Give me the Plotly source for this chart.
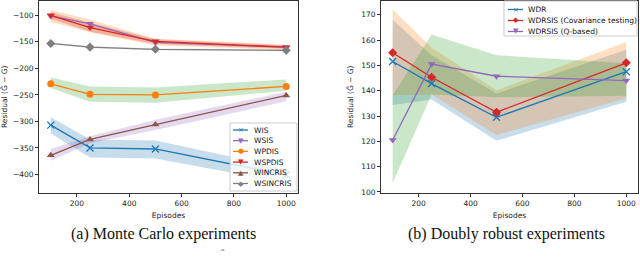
import plotly.graph_objects as go
from plotly.subplots import make_subplots

W, H = 640, 259

# ---------------- data ----------------
episodes = [100, 250, 500, 1000]

# (a) Monte Carlo experiments
mc_names = ["WIS", "WSIS", "WPDIS", "WSPDIS", "WINCRIS", "WSINCRIS"]
wis = [-307, -350, -352, -401]
wis_hi = [-292, -334, -336, -389]
wis_lo = [-323, -368, -370, -416]
wsis = [-101, -116, -151, -160]
wsis_hi = [-90, -108, -144, -155]
wsis_lo = [-112, -132, -157, -165]
wpdis = [-229, -249, -250, -234]
wpdis_hi = [-217, -234, -236, -221]
wpdis_lo = [-237, -263, -265, -242]
wspdis = [-100, -123, -149, -160]
wspdis_hi = [-94, -114, -145, -157]
wspdis_lo = [-107, -131, -154, -163]
wincris = [-364, -334, -306, -251]
wincris_hi = [-352, -328, -297, -244]
wincris_lo = [-374, -341, -316, -262]
wsincris = [-153, -160, -164, -166]
wsincris_hi = [-151, -158, -162, -164]
wsincris_lo = [-155, -162, -166, -168]

# (b) Doubly robust experiments
dr_names = ["WDR", "WDRSIS (Covariance testing)", "WDRSIS (Q-based)"]
wdr = [151.5, 142.8, 129.5, 147.5]
wdr_hi = [168, 154, 138.9, 156.2]
wdr_lo = [134.3, 136.5, 120.2, 135.6]
cov = [155, 145.3, 131.5, 151]
cov_hi = [172, 157, 140.2, 159.2]
cov_lo = [138.2, 138.5, 122.5, 137]
qb = [120.5, 150.5, 145.7, 144]
qb_hi = [138.2, 162.2, 154, 150.8]
qb_lo = [103.5, 138.5, 137.4, 138]

mc_yticks = [-100, -150, -200, -250, -300, -350, -400]
dr_yticks = [100, 110, 120, 130, 140, 150, 160, 170]
xticks = [200, 400, 600, 800, 1000]

# ---------------- styles ----------------
C = {"blue": "#1f77b4", "orange": "#ff7f0e", "green": "#2ca02c", "red": "#d62728",
     "purple": "#9467bd", "brown": "#8c564b", "grey": "#7f7f7f"}

def rgba(hexc, a):
    h = hexc.lstrip("#")
    r, g, b = int(h[0:2], 16), int(h[2:4], 16), int(h[4:6], 16)
    return f"rgba({r},{g},{b},{a})"

fig = make_subplots(rows=1, cols=2)

def band(x, hi, lo, color, col, a=0.25):
    fig.add_trace(go.Scatter(x=x + x[::-1], y=hi + lo[::-1], fill="toself",
                             fillcolor=rgba(color, a), line=dict(width=0),
                             mode="lines", hoverinfo="skip", showlegend=False),
                  row=1, col=col)

def line(x, y, name, color, symbol, col, size=7):
    mk = dict(symbol=symbol, size=size, color=color)
    if symbol.startswith("x-thin"):
        mk["line"] = dict(color=color, width=1.3)
    fig.add_trace(go.Scatter(x=x, y=y, name=name, mode="lines+markers",
                             line=dict(color=color, width=1.3), marker=mk,
                             showlegend=False), row=1, col=col)

# panel (a) bands
band(episodes, wis_hi, wis_lo, C["blue"], 1)
band(episodes, wsis_hi, wsis_lo, C["orange"], 1)
band(episodes, wpdis_hi, wpdis_lo, C["green"], 1)
band(episodes, wspdis_hi, wspdis_lo, C["red"], 1)
band(episodes, wincris_hi, wincris_lo, C["purple"], 1)
band(episodes, wsincris_hi, wsincris_lo, C["grey"], 1, 0.15)
# panel (a) lines
line(episodes, wis, "WIS", C["blue"], "x-thin", 1)
line(episodes, wsis, "WSIS", C["purple"], "triangle-down", 1)
line(episodes, wpdis, "WPDIS", C["orange"], "circle", 1)
line(episodes, wspdis, "WSPDIS", C["red"], "triangle-down", 1)
line(episodes, wincris, "WINCRIS", C["brown"], "triangle-up", 1)
line(episodes, wsincris, "WSINCRIS", C["grey"], "diamond", 1)

# panel (b)
band(episodes, wdr_hi, wdr_lo, C["blue"], 2)
band(episodes, cov_hi, cov_lo, C["orange"], 2)
band(episodes, qb_hi, qb_lo, C["green"], 2)
line(episodes, wdr, "WDR", C["blue"], "x-thin", 2)
line(episodes, cov, "WDRSIS (Covariance testing)", C["red"], "diamond", 2)
line(episodes, qb, "WDRSIS (Q-based)", C["purple"], "triangle-down", 2)

axfont = dict(family="DejaVu Sans", size=7.5, color="#222")
common_x = dict(range=[55, 1045], tickvals=xticks, ticks="outside", ticklen=3,
                tickcolor="#333", showline=True, linecolor="#333", linewidth=1,
                mirror=True, showgrid=False, zeroline=False, tickfont=axfont,
                title=dict(text="Episodes", font=axfont, standoff=5))
fig.update_xaxes(**common_x)
common_y = dict(ticks="outside", ticklen=3, tickcolor="#333", showline=True,
                linecolor="#333", linewidth=1, mirror=True, showgrid=False,
                zeroline=False, tickfont=axfont,
                title=dict(text="Residual (Ĝ − G)", font=axfont, standoff=6))
fig.update_yaxes(**common_y)

fig.update_layout(
    xaxis=dict(domain=[39 / W, 298 / W], automargin=False),
    xaxis2=dict(domain=[381 / W, 638 / W], automargin=False),
    yaxis=dict(domain=[1 - 193 / H, 1 - 0.5 / H], range=[-435, -72],
               tickvals=mc_yticks, automargin=False),
    yaxis2=dict(domain=[1 - 193 / H, 1 - 0.5 / H], range=[99.6, 175.6],
                tickvals=dr_yticks, automargin=False),
    width=W, height=H, margin=dict(l=0, r=0, t=0, b=0),
    paper_bgcolor="white", plot_bgcolor="white", showlegend=False,
)

shapes = []
annots = []

def px(x):
    return x / W

def py(y):
    return 1 - y / H

def legend(box, entries, y0, dy, lx0, lx1, tx, fsize=9):
    x0, y0b, x1, y1b = box
    shapes.append(dict(type="rect", xref="paper", yref="paper",
                       x0=px(x0), x1=px(x1), y0=py(y0b), y1=py(y1b),
                       line=dict(color="#cccccc", width=1), fillcolor="rgba(255,255,255,0.8)",
                       layer="above"))
    for i, (name, color, glyph) in enumerate(entries):
        y = y0 + i * dy
        shapes.append(dict(type="line", xref="paper", yref="paper",
                           x0=px(lx0), x1=px(lx1), y0=py(y), y1=py(y),
                           line=dict(color=color, width=1.3), layer="above"))
        annots.append(dict(x=px((lx0 + lx1) / 2), y=py(y), xref="paper", yref="paper",
                           text=glyph, showarrow=False, xanchor="center", yanchor="middle",
                           font=dict(family="DejaVu Sans", size=7, color=color)))
        annots.append(dict(x=px(tx), y=py(y), xref="paper", yref="paper",
                           text=name, showarrow=False, xanchor="left", yanchor="middle",
                           font=dict(family="DejaVu Sans", size=fsize, color="#111")))

legend((230, 123, 297, 191),
       [("WIS", C["blue"], "×"), ("WSIS", C["purple"], "▼"), ("WPDIS", C["orange"], "●"),
        ("WSPDIS", C["red"], "▼"), ("WINCRIS", C["brown"], "▲"), ("WSINCRIS", C["grey"], "◆")],
       130, 10.7, 233, 248, 252, fsize=7.5)
legend((504, 1, 637, 36),
       [("WDR", C["blue"], "×"), ("WDRSIS (Covariance testing)", C["red"], "◆"),
        ("WDRSIS (Q-based)", C["purple"], "▼")],
       9.5, 11, 508, 523, 526, fsize=7.5)

annots.append(dict(x=px(163), y=py(234), xref="paper", yref="paper",
                   text="(a) Monte Carlo experiments", showarrow=False,
                   xanchor="center", yanchor="middle",
                   font=dict(family="Liberation Serif", size=16, color="#111")))
annots.append(dict(x=px(506), y=py(234), xref="paper", yref="paper",
                   text="(b) Doubly robust experiments", showarrow=False,
                   xanchor="center", yanchor="middle",
                   font=dict(family="Liberation Serif", size=16, color="#111")))
annots.append(dict(x=px(223), y=py(253), xref="paper", yref="paper",
                   text="ˆ", showarrow=False, xanchor="center", yanchor="middle",
                   font=dict(family="Liberation Serif", size=10, color="#333")))

fig.update_layout(shapes=shapes, annotations=annots)
fig.write_html("out.html", config={"displayModeBar": False},
               post_script="document.body.style.margin='0';document.body.style.overflow='hidden';")
